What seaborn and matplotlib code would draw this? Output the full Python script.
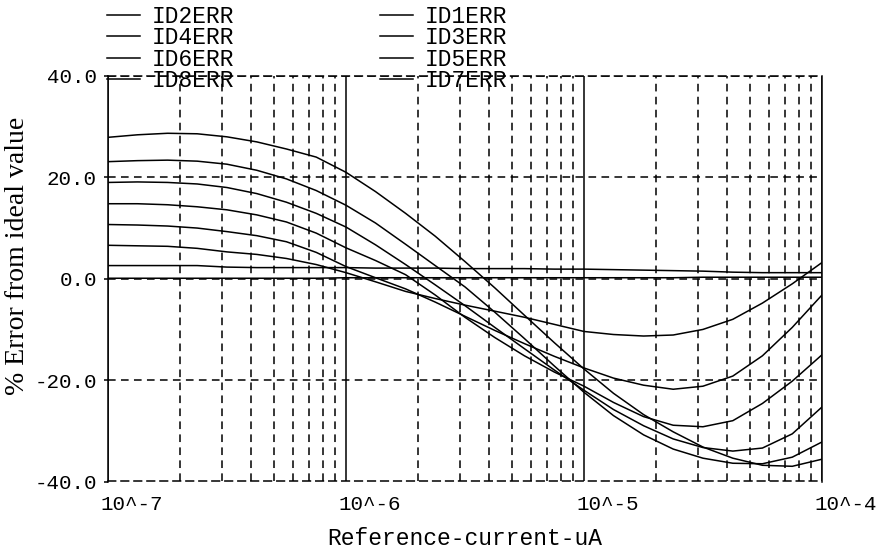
import matplotlib
matplotlib.use("Agg")
import matplotlib.pyplot as plt
import matplotlib.transforms as mtransforms
from matplotlib.lines import Line2D
from matplotlib.ticker import LogLocator, NullFormatter
import numpy as np
import pandas as pd
import seaborn as sns

# ---------------- data ----------------
current = [1.00e-7, 1.33e-7, 1.78e-7, 2.37e-7, 3.16e-7, 4.22e-7, 5.62e-7, 7.50e-7,
           1.00e-6, 1.33e-6, 1.78e-6, 2.37e-6, 3.16e-6, 4.22e-6, 5.62e-6, 7.50e-6,
           1.00e-5, 1.33e-5, 1.78e-5, 2.37e-5, 3.16e-5, 4.22e-5, 5.62e-5, 7.50e-5,
           1.00e-4]

ID1ERR = [0.1, 0.1, 0.1, 0.1, 0.1, 0.1, 0.1, 0.1,
          0.2, 0.2, 0.2, 0.2, 0.2, 0.2, 0.2, 0.2,
          0.2, 0.2, 0.2, 0.2, 0.3, 0.3, 0.3, 0.3, 0.3]
ID2ERR = [2.6, 2.6, 2.6, 2.6, 2.3, 2.2, 2.2, 2.2,
          2.2, 2.1, 2.1, 2.1, 2.0, 2.0, 2.0, 1.9,
          1.9, 1.8, 1.7, 1.6, 1.5, 1.3, 1.2, 1.2, 1.2]
ID3ERR = [6.6, 6.5, 6.4, 6.0, 5.3, 4.8, 4.0, 2.8,
          1.2, -0.6, -2.5, -3.9, -5.2, -6.4, -7.6, -9.0,
          -10.4, -11.0, -11.3, -11.1, -10.0, -8.0, -4.8, -1.0, 3.2]
ID4ERR = [10.7, 10.6, 10.4, 10.0, 9.3, 8.5, 7.3, 5.2,
          2.4, 0.2, -2.0, -4.6, -7.4, -10.2, -12.8, -15.3,
          -17.6, -19.6, -21.0, -21.8, -21.2, -19.2, -15.2, -9.6, -3.2]
ID5ERR = [14.8, 14.8, 14.6, 14.2, 13.6, 12.6, 11.2, 9.0,
          6.1, 3.6, 0.8, -3.2, -7.6, -11.6, -15.2, -18.4,
          -21.2, -24.4, -27.2, -28.9, -29.2, -28.0, -24.6, -20.2, -15.0]
ID6ERR = [19.0, 19.1, 19.0, 18.7, 18.0, 16.8, 15.1, 12.9,
          10.2, 6.7, 2.8, -1.2, -5.3, -9.6, -13.8, -18.0,
          -22.0, -25.8, -29.0, -31.6, -33.3, -34.0, -33.4, -30.6, -25.3]
ID7ERR = [23.1, 23.3, 23.4, 23.2, 22.6, 21.4, 19.7, 17.4,
          14.5, 11.0, 6.8, 2.6, -1.6, -6.6, -11.8, -17.2,
          -22.4, -27.0, -30.8, -33.6, -35.4, -36.4, -36.5, -35.2, -32.2]
ID8ERR = [27.9, 28.4, 28.7, 28.6, 28.0, 27.0, 25.6, 24.0,
          21.0, 17.2, 12.9, 8.4, 3.4, -1.8, -7.2, -12.6,
          -17.8, -22.6, -26.8, -30.2, -33.2, -35.4, -36.8, -37.0, -35.6]

series_names = ["ID1ERR", "ID2ERR", "ID3ERR", "ID4ERR",
                "ID5ERR", "ID6ERR", "ID7ERR", "ID8ERR"]
series_values = [ID1ERR, ID2ERR, ID3ERR, ID4ERR, ID5ERR, ID6ERR, ID7ERR, ID8ERR]
legend_order = ["ID2ERR", "ID4ERR", "ID6ERR", "ID8ERR",
                "ID1ERR", "ID3ERR", "ID5ERR", "ID7ERR"]

ytick_values = [-40, -20, 0, 20, 40]
ytick_labels = ["-40.0", "-20.0", "0.0", "20.0", "40.0"]
xtick_values = [1e-7, 1e-6, 1e-5, 1e-4]
xtick_labels = ["10^-7", "10^-6", "10^-5", "10^-4"]

# ---------------- figure ----------------
MONO = "Liberation Mono"
SERIF = "Liberation Serif"
FS = 15

rows = []
for name, vals in zip(series_names, series_values):
    for c, v in zip(current, vals):
        rows.append({"current": c, "error": v, "series": name})
df = pd.DataFrame(rows)

fig, ax = plt.subplots(figsize=(8.87, 5.52), dpi=100)
fig.subplots_adjust(left=108 / 887, right=822 / 887,
                    bottom=(552 - 481.5) / 552, top=(552 - 76) / 552)

sns.lineplot(data=df, x="current", y="error", hue="series",
             hue_order=series_names, palette=["black"] * 8,
             linewidth=1.1, legend=False, estimator=None, ax=ax)

ax.set_xscale("log")
ax.set_xlim(1e-7, 1e-4)
ax.set_ylim(-40, 40)
ax.xaxis.set_major_locator(LogLocator(base=10, numticks=10))
ax.xaxis.set_minor_locator(LogLocator(base=10, subs=np.arange(2, 10), numticks=100))
ax.xaxis.set_minor_formatter(NullFormatter())

dash = (0, (5, 3.5))
ax.grid(True, which="major", axis="x", color="black", lw=1.1, ls="-")
ax.grid(True, which="minor", axis="x", color="black", lw=1.1, ls=dash)
ax.grid(True, which="major", axis="y", color="black", lw=1.1, ls=dash)
ax.set_axisbelow(True)

for s in ["left", "right"]:
    ax.spines[s].set_linewidth(1.1)
    ax.spines[s].set_color("black")
for s in ["top", "bottom"]:
    ax.spines[s].set_linewidth(1.1)
    ax.spines[s].set_linestyle(dash)

ax.tick_params(axis="x", which="both", length=0, labelbottom=False)
ax.set_yticks(ytick_values)
ax.set_yticklabels(ytick_labels, fontfamily=MONO, fontsize=FS)
ax.tick_params(axis="y", length=3, width=1.1, direction="out", pad=5)

# x tick labels, left aligned a little left of each decade line
base = mtransforms.blended_transform_factory(ax.transData, ax.transAxes)
for xv, lab in zip(xtick_values, xtick_labels):
    tr = mtransforms.offset_copy(base, fig=fig, x=-8, y=-14, units="dots")
    ax.text(xv, 0, lab, transform=tr, ha="left", va="top",
            fontfamily=MONO, fontsize=FS)

ax.set_xlabel("Reference-current-uA", fontfamily=MONO, fontsize=16.5, labelpad=33)
ax.set_ylabel("")
fig.text(18 / 887, 1 - 256 / 552, "% Error from ideal value", rotation=90,
         ha="center", va="center", fontfamily=SERIF, fontsize=20)

handles = {n: Line2D([0], [0], color="black", lw=1.1) for n in series_names}
fig.legend([handles[n] for n in legend_order], legend_order, ncol=2,
           loc="upper left", bbox_to_anchor=(107 / 887, 1 - 5 / 552),
           frameon=False, prop={"family": MONO, "size": 16.5},
           handlelength=1.45, handletextpad=0.5, columnspacing=6.35,
           labelspacing=-0.07, borderpad=0, borderaxespad=0)

fig.savefig("out.png", dpi=100)
